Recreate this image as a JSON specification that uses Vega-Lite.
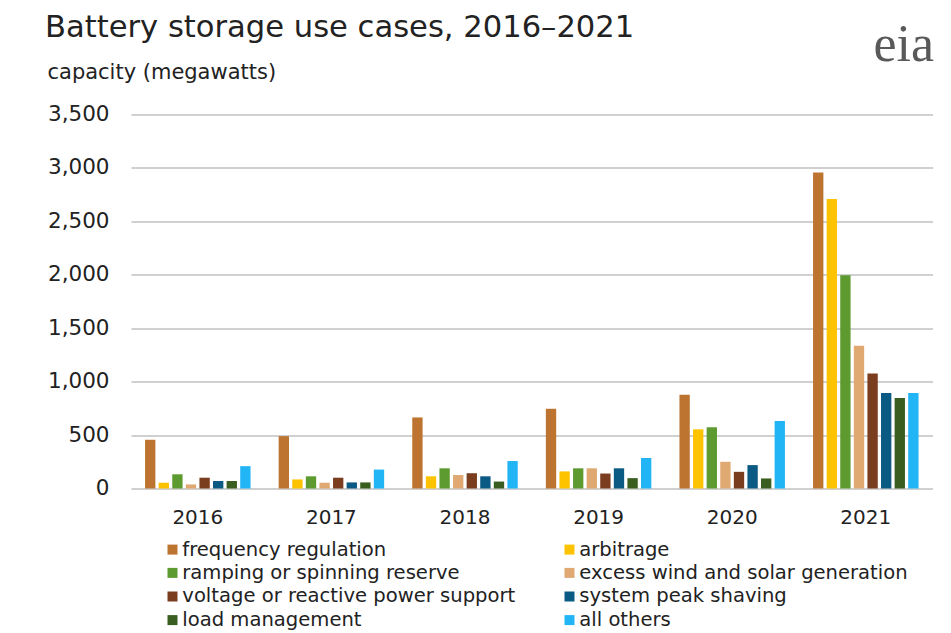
{
  "$schema": "https://vega.github.io/schema/vega-lite/v6.json",
  "width": 801.6,
  "height": 374,
  "autosize": {"type": "none"},
  "padding": {"left": 131, "top": 114.5, "right": 18, "bottom": 144.5},
  "background": "white",
  "title": {
    "text": "Battery storage use cases, 2016–2021",
    "anchor": "start",
    "frame": "group",
    "dx": -86,
    "dy": 30,
    "fontSize": 30.6,
    "font": "DejaVu Sans",
    "fontWeight": "normal",
    "color": "#222222"
  },
  "data": {
    "values": [
      {"year": "2016", "use": "frequency regulation", "value": 456},
      {"year": "2016", "use": "arbitrage", "value": 54},
      {"year": "2016", "use": "ramping or spinning reserve", "value": 133},
      {"year": "2016", "use": "excess wind and solar generation", "value": 38},
      {"year": "2016", "use": "voltage or reactive power support", "value": 101},
      {"year": "2016", "use": "system peak shaving", "value": 70},
      {"year": "2016", "use": "load management", "value": 70},
      {"year": "2016", "use": "all others", "value": 209},
      {"year": "2017", "use": "frequency regulation", "value": 490},
      {"year": "2017", "use": "arbitrage", "value": 85},
      {"year": "2017", "use": "ramping or spinning reserve", "value": 114},
      {"year": "2017", "use": "excess wind and solar generation", "value": 54},
      {"year": "2017", "use": "voltage or reactive power support", "value": 101},
      {"year": "2017", "use": "system peak shaving", "value": 57},
      {"year": "2017", "use": "load management", "value": 57},
      {"year": "2017", "use": "all others", "value": 177},
      {"year": "2018", "use": "frequency regulation", "value": 665},
      {"year": "2018", "use": "arbitrage", "value": 114},
      {"year": "2018", "use": "ramping or spinning reserve", "value": 189},
      {"year": "2018", "use": "excess wind and solar generation", "value": 126},
      {"year": "2018", "use": "voltage or reactive power support", "value": 143},
      {"year": "2018", "use": "system peak shaving", "value": 114},
      {"year": "2018", "use": "load management", "value": 65},
      {"year": "2018", "use": "all others", "value": 257},
      {"year": "2019", "use": "frequency regulation", "value": 746},
      {"year": "2019", "use": "arbitrage", "value": 160},
      {"year": "2019", "use": "ramping or spinning reserve", "value": 189},
      {"year": "2019", "use": "excess wind and solar generation", "value": 189},
      {"year": "2019", "use": "voltage or reactive power support", "value": 140},
      {"year": "2019", "use": "system peak shaving", "value": 189},
      {"year": "2019", "use": "load management", "value": 97},
      {"year": "2019", "use": "all others", "value": 286},
      {"year": "2020", "use": "frequency regulation", "value": 877},
      {"year": "2020", "use": "arbitrage", "value": 554},
      {"year": "2020", "use": "ramping or spinning reserve", "value": 573},
      {"year": "2020", "use": "excess wind and solar generation", "value": 250},
      {"year": "2020", "use": "voltage or reactive power support", "value": 156},
      {"year": "2020", "use": "system peak shaving", "value": 219},
      {"year": "2020", "use": "load management", "value": 94},
      {"year": "2020", "use": "all others", "value": 632},
      {"year": "2021", "use": "frequency regulation", "value": 2957},
      {"year": "2021", "use": "arbitrage", "value": 2710},
      {"year": "2021", "use": "ramping or spinning reserve", "value": 1995},
      {"year": "2021", "use": "excess wind and solar generation", "value": 1335},
      {"year": "2021", "use": "voltage or reactive power support", "value": 1077},
      {"year": "2021", "use": "system peak shaving", "value": 893},
      {"year": "2021", "use": "load management", "value": 846},
      {"year": "2021", "use": "all others", "value": 893}
    ]
  },
  "mark": {"type": "bar"},
  "encoding": {
    "x": {
      "field": "year",
      "type": "nominal",
      "scale": {"paddingInner": 0.186, "paddingOuter": 0.093},
      "axis": {
        "labelFont": "DejaVu Sans",
        "labelFontSize": 20,
        "labelColor": "#222222",
        "labelPadding": 19,
        "labelAngle": 0,
        "ticks": false,
        "domain": false,
        "title": "eia",
        "titleFont": "Liberation Serif",
        "titleFontSize": 52,
        "titleFontWeight": "normal",
        "titleColor": "#595959",
        "titleX": 742,
        "titleY": -428.5,
        "titleAlign": "left",
        "titleBaseline": "alphabetic",
        "titleAngle": 0
      }
    },
    "xOffset": {
      "field": "use",
      "type": "nominal",
      "sort": ["frequency regulation", "arbitrage", "ramping or spinning reserve", "excess wind and solar generation", "voltage or reactive power support", "system peak shaving", "load management", "all others"],
      "scale": {"paddingInner": 0.24, "paddingOuter": 0.12}
    },
    "y": {
      "field": "value",
      "type": "quantitative",
      "scale": {"domain": [0, 3500], "nice": false},
      "axis": {
        "values": [0, 500, 1000, 1500, 2000, 2500, 3000, 3500],
        "format": ",.0f",
        "labelFont": "DejaVu Sans",
        "labelFontSize": 21.5,
        "labelColor": "#222222",
        "labelPadding": 22,
        "ticks": false,
        "domain": false,
        "grid": true,
        "gridColor": "#c0c0c0",
        "gridWidth": 1.3,
        "title": "capacity (megawatts)",
        "titleFont": "DejaVu Sans",
        "titleFontSize": 21,
        "titleFontWeight": "normal",
        "titleColor": "#222222",
        "titleX": -84,
        "titleY": -36,
        "titleAlign": "left",
        "titleBaseline": "alphabetic",
        "titleAngle": 0
      }
    },
    "color": {
      "field": "use",
      "type": "nominal",
      "scale": {
        "domain": ["frequency regulation", "ramping or spinning reserve", "voltage or reactive power support", "load management", "arbitrage", "excess wind and solar generation", "system peak shaving", "all others"],
        "range": ["#bd7430", "#5d9b31", "#7a3e1e", "#3a5e1f", "#fdc300", "#dfa971", "#0b5a84", "#22b5f6"]
      },
      "legend": {
        "orient": "none",
        "legendX": 31.7,
        "legendY": 425,
        "direction": "vertical",
        "columns": 2,
        "columnPadding": 44,
        "rowPadding": 2.6,
        "padding": 0,
        "title": null,
        "symbolType": "square",
        "symbolSize": 100,
        "symbolStrokeWidth": 0,
        "symbolOpacity": 1,
        "labelFont": "DejaVu Sans",
        "labelFontSize": 19.6,
        "labelColor": "#222222",
        "labelOffset": 0,
        "labelLimit": 500
      }
    }
  },
  "config": {
    "view": {"stroke": null},
    "font": "DejaVu Sans"
  }
}
